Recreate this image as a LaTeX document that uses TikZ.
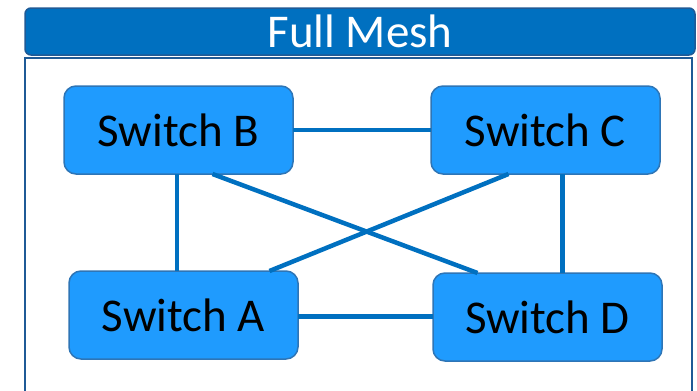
\documentclass[tikz,border=0pt]{standalone}
\usepackage{fontspec}
\setmainfont{Carlito}
\usepackage{tikz}
\usetikzlibrary{calc}

\definecolor{barblue}{HTML}{0070C0}
\definecolor{barline}{HTML}{1F5A96}
\definecolor{swfill}{HTML}{1F9BFE}
\definecolor{swline}{HTML}{2E75B6}
\definecolor{linkblue}{HTML}{0070C0}

\tikzset{
    switchbox/.style={draw=swline, fill=swfill, line width=1.5pt, rounded corners=12pt,
        minimum width=229pt, minimum height=88pt, text=black,
        font=\fontsize{47}{56}\selectfont},
    link/.style={draw=linkblue, line width=4.5pt}
}

\begin{document}
\begin{tikzpicture}[x=1pt,y=-1pt,inner sep=0pt,outer sep=0pt]
    \useasboundingbox (0,0) rectangle (697,391);

    % title bar
    \node[anchor=north west, draw=barline, fill=barblue, line width=1.5pt, rounded corners=6pt,
        minimum width=670pt, minimum height=47pt, text=white,
        font=\fontsize{47}{56}\selectfont] (title_bar) at (25, 8) {Full Mesh};

    % frame, open at the bottom
    \draw[barline, line width=2pt] (25, 391) -- (25, 58) -- (692, 58) -- (692, 391);

    % switches
    \node[switchbox, anchor=north west] (sw_b) at (64, 86) {Switch B};
    \node[switchbox, anchor=north west] (sw_c) at (431, 86) {Switch C};
    \node[switchbox, anchor=north west] (sw_a) at (69, 271) {Switch A};
    \node[switchbox, anchor=north west] (sw_d) at (433, 273) {Switch D};

    % link ends
    \coordinate (a_east) at ($(sw_a.east)+(0,1.5)$);
    \coordinate (b_foot) at ($(sw_b.south)+(-1.5,0)$);
    \coordinate (c_foot) at ($(sw_c.south)+(17,0)$);

    % links
    \draw[link] (sw_b.east) -- (sw_c.west);
    \draw[link] (a_east) -- (a_east -| sw_d.west);
    \draw[link] (b_foot) -- (b_foot |- sw_a.north);
    \draw[link] (c_foot) -- (c_foot |- sw_d.north);
    \draw[link] ($(sw_b.south)+(34,0)$) -- ($(sw_d.north)+(-70,0)$);
    \draw[link] ($(sw_c.south)+(-37,0)$) -- ($(sw_a.north)+(86,0)$);

\end{tikzpicture}
\end{document}
